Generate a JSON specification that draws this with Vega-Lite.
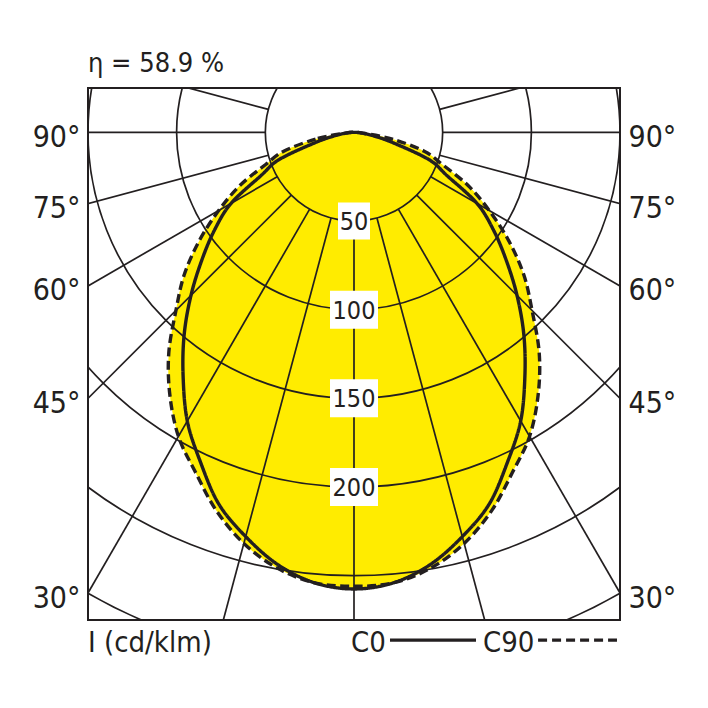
{
  "$schema": "https://vega.github.io/schema/vega-lite/v6.json",
  "width": 532,
  "height": 532,
  "autosize": {"type": "none"},
  "padding": {"left": 88, "top": 88, "right": 88, "bottom": 88},
  "background": "white",
  "datasets": {
    "curves": [
      {"plane": "C0", "gamma": -85, "I": 4}, {"plane": "C0", "gamma": -80, "I": 11}, {"plane": "C0", "gamma": -75, "I": 23},
      {"plane": "C0", "gamma": -70, "I": 45}, {"plane": "C0", "gamma": -65, "I": 58}, {"plane": "C0", "gamma": -60, "I": 80},
      {"plane": "C0", "gamma": -55, "I": 96}, {"plane": "C0", "gamma": -50, "I": 112}, {"plane": "C0", "gamma": -45, "I": 130},
      {"plane": "C0", "gamma": -40, "I": 149}, {"plane": "C0", "gamma": -35, "I": 168}, {"plane": "C0", "gamma": -30, "I": 188},
      {"plane": "C0", "gamma": -25, "I": 205}, {"plane": "C0", "gamma": -20, "I": 223}, {"plane": "C0", "gamma": -15, "I": 236},
      {"plane": "C0", "gamma": -10, "I": 247.5}, {"plane": "C0", "gamma": -5, "I": 255}, {"plane": "C0", "gamma": 0, "I": 257.5},
      {"plane": "C0", "gamma": 5, "I": 255}, {"plane": "C0", "gamma": 10, "I": 247.5}, {"plane": "C0", "gamma": 15, "I": 236},
      {"plane": "C0", "gamma": 20, "I": 223}, {"plane": "C0", "gamma": 25, "I": 205}, {"plane": "C0", "gamma": 30, "I": 188},
      {"plane": "C0", "gamma": 35, "I": 168}, {"plane": "C0", "gamma": 40, "I": 149}, {"plane": "C0", "gamma": 45, "I": 130},
      {"plane": "C0", "gamma": 50, "I": 112}, {"plane": "C0", "gamma": 55, "I": 96}, {"plane": "C0", "gamma": 60, "I": 80},
      {"plane": "C0", "gamma": 65, "I": 58}, {"plane": "C0", "gamma": 70, "I": 45}, {"plane": "C0", "gamma": 75, "I": 23},
      {"plane": "C0", "gamma": 80, "I": 11}, {"plane": "C0", "gamma": 85, "I": 4}, {"plane": "C0", "gamma": 90, "I": 0},
      {"plane": "C90", "gamma": -85, "I": 5}, {"plane": "C90", "gamma": -80, "I": 22}, {"plane": "C90", "gamma": -75, "I": 41},
      {"plane": "C90", "gamma": -70, "I": 53}, {"plane": "C90", "gamma": -65, "I": 71}, {"plane": "C90", "gamma": -60, "I": 88},
      {"plane": "C90", "gamma": -55, "I": 106.5}, {"plane": "C90", "gamma": -50, "I": 125}, {"plane": "C90", "gamma": -45, "I": 142},
      {"plane": "C90", "gamma": -40, "I": 162.5}, {"plane": "C90", "gamma": -35, "I": 181}, {"plane": "C90", "gamma": -30, "I": 198},
      {"plane": "C90", "gamma": -25, "I": 211.5}, {"plane": "C90", "gamma": -20, "I": 227}, {"plane": "C90", "gamma": -15, "I": 240},
      {"plane": "C90", "gamma": -10, "I": 249.5}, {"plane": "C90", "gamma": -5, "I": 255}, {"plane": "C90", "gamma": 0, "I": 256},
      {"plane": "C90", "gamma": 5, "I": 255}, {"plane": "C90", "gamma": 10, "I": 249.5}, {"plane": "C90", "gamma": 15, "I": 240},
      {"plane": "C90", "gamma": 20, "I": 227}, {"plane": "C90", "gamma": 25, "I": 211.5}, {"plane": "C90", "gamma": 30, "I": 198},
      {"plane": "C90", "gamma": 35, "I": 181}, {"plane": "C90", "gamma": 40, "I": 162.5}, {"plane": "C90", "gamma": 45, "I": 142},
      {"plane": "C90", "gamma": 50, "I": 125}, {"plane": "C90", "gamma": 55, "I": 106.5}, {"plane": "C90", "gamma": 60, "I": 88},
      {"plane": "C90", "gamma": 65, "I": 71}, {"plane": "C90", "gamma": 70, "I": 53}, {"plane": "C90", "gamma": 75, "I": 41},
      {"plane": "C90", "gamma": 80, "I": 22}, {"plane": "C90", "gamma": 85, "I": 5}, {"plane": "C90", "gamma": 90, "I": 0}
    ],
    "rings": [
      {"ring": 50, "label": "50"}, {"ring": 100, "label": "100"}, {"ring": 150, "label": "150"},
      {"ring": 200, "label": "200"}, {"ring": 250, "label": ""}, {"ring": 300, "label": ""}
    ],
    "radials": [
      {"g": -105}, {"g": -90}, {"g": -75}, {"g": -60}, {"g": -45}, {"g": -30}, {"g": -15}, {"g": 0},
      {"g": 15}, {"g": 30}, {"g": 45}, {"g": 60}, {"g": 75}, {"g": 90}, {"g": 105}
    ]
  },
  "resolve": {"axis": {"y": "independent"}},
  "layer": [
    {
      "data": {"name": "curves"},
      "transform": [
        {"calculate": "datum.I * sin(datum.gamma * PI / 180)", "as": "x"},
        {"calculate": "datum.I * cos(datum.gamma * PI / 180)", "as": "y"}
      ],
      "mark": {"type": "line", "fill": "#ffec00", "strokeOpacity": 0, "interpolate": "cardinal-closed"},
      "encoding": {
        "x": {"field": "x", "type": "quantitative", "scale": {"domain": [-150, 150], "nice": false, "zero": false}, "axis": null},
        "y": {"field": "y", "type": "quantitative", "scale": {"domain": [-25, 275], "nice": false, "zero": false, "reverse": true}, "axis": null},
        "detail": {"field": "plane", "type": "nominal"},
        "order": {"field": "gamma", "type": "quantitative"}
      }
    },
    {
      "data": {"name": "rings"},
      "mark": {"type": "arc", "theta": 0, "theta2": 6.2832, "fillOpacity": 0, "stroke": "#231f20", "strokeWidth": 1.7, "clip": true},
      "encoding": {
        "x": {"datum": 0, "type": "quantitative", "scale": {"domain": [-150, 150], "nice": false, "zero": false}, "axis": null},
        "y": {"datum": 0, "type": "quantitative", "scale": {"domain": [-25, 275], "nice": false, "zero": false, "reverse": true}, "axis": null},
        "radius": {"field": "ring", "type": "quantitative", "stack": null, "scale": {"type": "linear", "domain": [0, 300], "range": [0, 532], "zero": true}}
      }
    },
    {
      "data": {"name": "radials"},
      "transform": [
        {"calculate": "50 * sin(datum.g * PI / 180)", "as": "x0"},
        {"calculate": "50 * cos(datum.g * PI / 180)", "as": "y0"},
        {"calculate": "400 * sin(datum.g * PI / 180)", "as": "x1"},
        {"calculate": "400 * cos(datum.g * PI / 180)", "as": "y1"}
      ],
      "mark": {"type": "rule", "color": "#231f20", "strokeWidth": 1.7, "clip": true},
      "encoding": {
        "x": {"field": "x0", "type": "quantitative", "scale": {"domain": [-150, 150], "nice": false, "zero": false}, "axis": null},
        "y": {
          "field": "y0", "type": "quantitative",
          "scale": {"domain": [-25, 275], "nice": false, "zero": false, "reverse": true},
          "axis": {
            "orient": "left", "title": null, "values": [0, 40.19, 86.6, 150, 259.81],
            "labelExpr": "datum.value < 1 ? '90°' : datum.value < 50 ? '75°' : datum.value < 100 ? '60°' : datum.value < 200 ? '45°' : '30°'"
          }
        },
        "x2": {"field": "x1"},
        "y2": {"field": "y1"}
      }
    },
    {
      "data": {"name": "curves"},
      "transform": [
        {"calculate": "datum.I * sin(datum.gamma * PI / 180)", "as": "x"},
        {"calculate": "datum.I * cos(datum.gamma * PI / 180)", "as": "y"}
      ],
      "mark": {"type": "line", "color": "#231f20", "strokeWidth": 3.4, "interpolate": "cardinal-closed", "strokeCap": "butt"},
      "encoding": {
        "x": {"field": "x", "type": "quantitative", "scale": {"domain": [-150, 150], "nice": false, "zero": false}, "axis": null},
        "y": {
          "field": "y", "type": "quantitative",
          "scale": {"domain": [-25, 275], "nice": false, "zero": false, "reverse": true},
          "axis": {
            "orient": "right", "title": null, "values": [0, 40.19, 86.6, 150, 259.81],
            "labelExpr": "datum.value < 1 ? '90°' : datum.value < 50 ? '75°' : datum.value < 100 ? '60°' : datum.value < 200 ? '45°' : '30°'"
          }
        },
        "strokeDash": {"field": "plane", "type": "nominal", "scale": {"domain": ["C0", "C90"], "range": [[1, 0], [9, 4.5]]}, "legend": null},
        "detail": {"field": "plane", "type": "nominal"},
        "order": {"field": "gamma", "type": "quantitative"}
      }
    },
    {
      "data": {"name": "rings"},
      "transform": [{"filter": "datum.ring == 50"}],
      "mark": {"type": "point", "shape": "M-0.865,-1L0.865,-1L0.865,1L-0.865,1Z", "size": 1369, "filled": true, "color": "white", "opacity": 1, "strokeWidth": 0},
      "encoding": {
        "x": {"datum": 0, "type": "quantitative", "scale": {"domain": [-150, 150], "nice": false, "zero": false}, "axis": null},
        "y": {"field": "ring", "type": "quantitative", "scale": {"domain": [-25, 275], "nice": false, "zero": false, "reverse": true}, "axis": null}
      }
    },
    {
      "data": {"name": "rings"},
      "transform": [{"filter": "datum.ring > 50 && datum.ring <= 200"}],
      "mark": {"type": "point", "shape": "M-1,-0.79L1,-0.79L1,0.79L-1,0.79Z", "size": 2304, "filled": true, "color": "white", "opacity": 1, "strokeWidth": 0},
      "encoding": {
        "x": {"datum": 0, "type": "quantitative", "scale": {"domain": [-150, 150], "nice": false, "zero": false}, "axis": null},
        "y": {"field": "ring", "type": "quantitative", "scale": {"domain": [-25, 275], "nice": false, "zero": false, "reverse": true}, "axis": null}
      }
    },
    {
      "data": {"name": "rings"},
      "transform": [{"filter": "datum.ring <= 200"}],
      "mark": {"type": "text", "fontSize": 25, "align": "center", "baseline": "middle", "color": "#231f20", "dy": 1},
      "encoding": {
        "x": {"datum": 0, "type": "quantitative", "scale": {"domain": [-150, 150], "nice": false, "zero": false}, "axis": null},
        "y": {"field": "ring", "type": "quantitative", "scale": {"domain": [-25, 275], "nice": false, "zero": false, "reverse": true}, "axis": null},
        "text": {"field": "label"}
      }
    },
    {
      "data": {"values": [{"t": "η = 58.9 %"}]},
      "mark": {"type": "text", "fontSize": 27, "align": "left", "baseline": "alphabetic", "color": "#231f20"},
      "encoding": {
        "x": {"datum": -150, "type": "quantitative", "scale": {"domain": [-150, 150], "nice": false, "zero": false}, "axis": null},
        "y": {"datum": -34, "type": "quantitative", "scale": {"domain": [-25, 275], "nice": false, "zero": false, "reverse": true}, "axis": null},
        "text": {"field": "t"}
      }
    },
    {
      "data": {"values": [{"t": "I (cd/klm)"}]},
      "mark": {"type": "text", "fontSize": 29, "align": "left", "baseline": "alphabetic", "color": "#231f20"},
      "encoding": {
        "x": {"datum": -150, "type": "quantitative", "scale": {"domain": [-150, 150], "nice": false, "zero": false}, "axis": null},
        "y": {"datum": 293, "type": "quantitative", "scale": {"domain": [-25, 275], "nice": false, "zero": false, "reverse": true}, "axis": null},
        "text": {"field": "t"}
      }
    },
    {
      "data": {"values": [{"t": "C0"}]},
      "mark": {"type": "text", "fontSize": 29, "align": "left", "baseline": "alphabetic", "color": "#231f20"},
      "encoding": {
        "x": {"datum": -1.7, "type": "quantitative", "scale": {"domain": [-150, 150], "nice": false, "zero": false}, "axis": null},
        "y": {"datum": 293, "type": "quantitative", "scale": {"domain": [-25, 275], "nice": false, "zero": false, "reverse": true}, "axis": null},
        "text": {"field": "t"}
      }
    },
    {
      "data": {"values": [{"t": "C90"}]},
      "mark": {"type": "text", "fontSize": 29, "align": "left", "baseline": "alphabetic", "color": "#231f20"},
      "encoding": {
        "x": {"datum": 72.7, "type": "quantitative", "scale": {"domain": [-150, 150], "nice": false, "zero": false}, "axis": null},
        "y": {"datum": 293, "type": "quantitative", "scale": {"domain": [-25, 275], "nice": false, "zero": false, "reverse": true}, "axis": null},
        "text": {"field": "t"}
      }
    },
    {
      "data": {"values": [{"plane": "C0"}]},
      "mark": {"type": "rule", "color": "#231f20", "strokeWidth": 3.3},
      "encoding": {
        "x": {"datum": 20.3, "type": "quantitative", "scale": {"domain": [-150, 150], "nice": false, "zero": false}, "axis": null},
        "x2": {"datum": 68.8},
        "y": {"datum": 286.3, "type": "quantitative", "scale": {"domain": [-25, 275], "nice": false, "zero": false, "reverse": true}, "axis": null}
      }
    },
    {
      "data": {"values": [{"plane": "C90"}]},
      "mark": {"type": "rule", "color": "#231f20", "strokeWidth": 3.3, "strokeDash": [9, 5]},
      "encoding": {
        "x": {"datum": 103.8, "type": "quantitative", "scale": {"domain": [-150, 150], "nice": false, "zero": false}, "axis": null},
        "x2": {"datum": 148.3},
        "y": {"datum": 286.3, "type": "quantitative", "scale": {"domain": [-25, 275], "nice": false, "zero": false, "reverse": true}, "axis": null}
      }
    }
  ],
  "config": {
    "font": "Liberation Sans Narrow, DejaVu Sans Condensed, sans-serif",
    "view": {"stroke": "#231f20", "strokeWidth": 2, "fill": "white"},
    "text": {"font": "Liberation Sans Narrow, DejaVu Sans Condensed, sans-serif"},
    "axis": {
      "ticks": false,
      "domain": false,
      "grid": false,
      "labelFont": "Liberation Sans Narrow, DejaVu Sans Condensed, sans-serif",
      "labelFontSize": 30,
      "labelColor": "#231f20",
      "labelPadding": 8,
      "labelOffset": 5,
      "labelBaseline": "middle",
      "labelOverlap": false
    }
  }
}
